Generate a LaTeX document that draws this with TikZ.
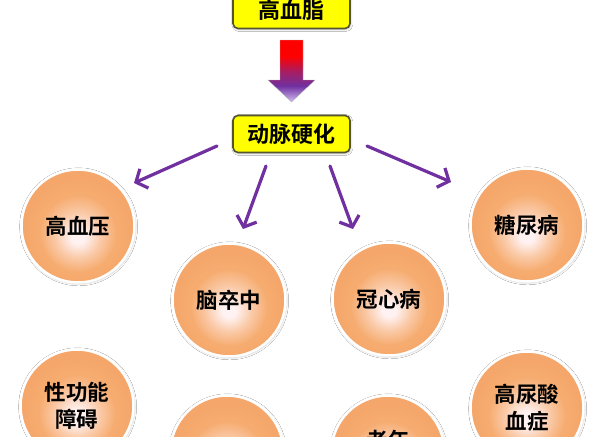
\documentclass[tikz,border=0pt]{standalone}
\usepackage{fontspec}
\newfontfamily\cjk{Noto Sans CJK SC Bold}
\usetikzlibrary{arrows.meta,shadows.blur}
\definecolor{ballcore}{RGB}{255,242,242}
\definecolor{ballmid}{RGB}{250,202,168}
\definecolor{ballout}{RGB}{246,172,112}
\definecolor{ballrim}{RGB}{245,166,106}
\definecolor{arrpurple}{RGB}{112,48,160}
\definecolor{arrlav}{RGB}{210,190,242}
\definecolor{boxyellow}{RGB}{255,255,0}
\definecolor{boxedge}{RGB}{85,85,45}
\pgfdeclareradialshading{ballshade}{\pgfpoint{0bp}{-5bp}}{color(0bp)=(ballcore); color(3bp)=(ballcore); color(10bp)=(ballmid); color(17bp)=(ballout); color(25bp)=(ballrim); color(50bp)=(ballrim)}
\pgfdeclareverticalshading{arrowshade}{100bp}{color(0bp)=(arrlav); color(25bp)=(arrlav); color(38bp)=(arrpurple); color(50bp)=(arrpurple!60!red); color(62bp)=(red); color(100bp)=(red)}
\tikzset{
  ball/.style={circle, minimum size=113pt, inner sep=0pt, shade, shading=ballshade,
    draw=white, line width=2.5pt, align=center, font=\cjk\fontsize{21.5}{27}\selectfont,
    text=black, blur shadow={shadow xshift=0.6pt, shadow yshift=-0.8pt, shadow blur radius=2.5pt, shadow opacity=30}},
  ybox/.style={rectangle, rounded corners=5pt, minimum width=117pt, minimum height=37pt,
    fill=boxyellow, draw=boxedge, line width=1.6pt, font=\cjk\fontsize{22}{26}\selectfont,
    text=black, blur shadow={shadow xshift=0.8pt, shadow yshift=-1pt, shadow blur radius=2pt, shadow opacity=25}},
  parrow/.style={draw=arrpurple, line width=3.2pt, line cap=round,
    -{Straight Barb[length=9pt, width=21pt, line width=3.2pt]}},
  lbl/.style={font=\cjk\fontsize{21.5}{27}\selectfont, text=black}
}
\begin{document}
\begin{tikzpicture}[x=1pt,y=-1pt]
\useasboundingbox[fill=white] (0,0) rectangle (598,437);
% boxes
\node[ybox] (hyperlip) at (291.5,10) {高血脂};
\node[ybox] (athero) at (291.5,134) {动脉硬化};
% big gradient arrow
\shade[shading=arrowshade, draw=black!30, line width=0.3pt] (280,40) -- (303,40) -- (303,80) -- (315,80) -- (291.5,102) -- (268,80) -- (280,80) -- cycle;
% circles
\node[ball] (hbp) at (78,226) {高血压};
\node[ball] (stroke) at (229,300) {脑卒中};
\node[ball] (chd) at (389,299) {冠心病};
\node[ball] (dm) at (527,225) {糖尿病};
\node[ball] (sex) at (77,406) {性功能\\障碍};
\node[ball] (gout) at (527,408) {高尿酸\\血症};
\node[ball] (blank) at (227,452) {};
\node[ball] (old) at (388,452) {};
\node[lbl] (oldtxt) at (388,440) {老年};
% arrows
\coordinate (s1) at (217,146);
\coordinate (t1) at (134,183);
\coordinate (s2) at (266,166);
\coordinate (t2) at (243,229);
\coordinate (s3) at (330,166);
\coordinate (t3) at (353,229);
\coordinate (s4) at (367,146);
\coordinate (t4) at (451,182);
\draw[parrow] (s1) -- (t1);
\draw[parrow] (s2) -- (t2);
\draw[parrow] (s3) -- (t3);
\draw[parrow] (s4) -- (t4);
\end{tikzpicture}
\end{document}
